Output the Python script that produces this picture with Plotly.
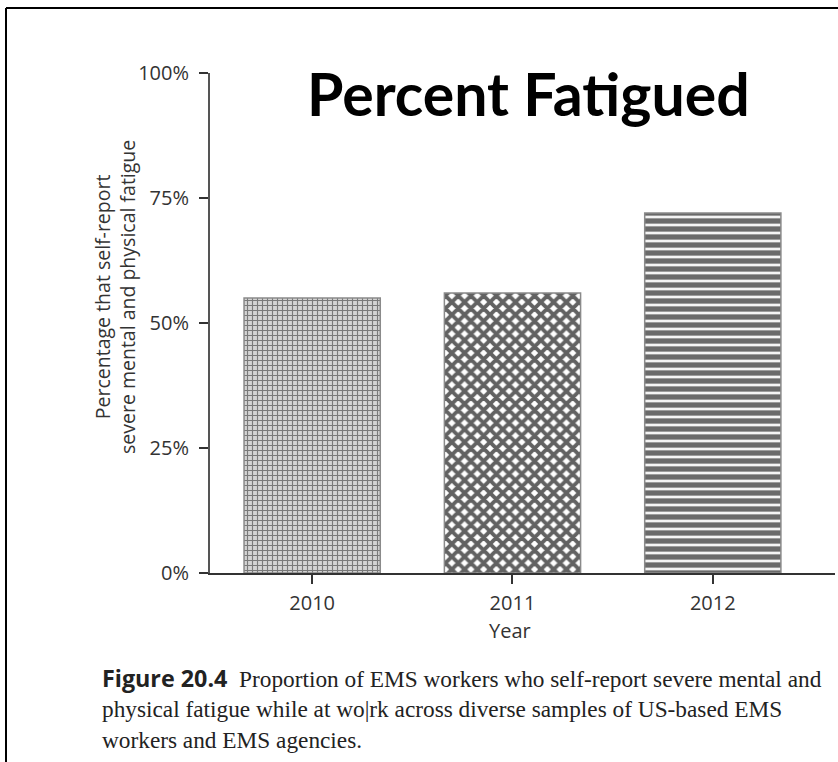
import plotly.graph_objects as go

# Survey years and share of EMS workers reporting severe fatigue
years = ["2010", "2011", "2012"]
pct_fatigued = [55, 56, 72]

y_ticks = [0, 25, 50, 75, 100]
y_tick_text = ["0%", "25%", "50%", "75%", "100%"]

caption_lines = [
    "<span style=\"font-family:'Open Sans';font-weight:bold\">Figure 20.4</span>"
    "  Proportion of EMS workers who self-report severe mental and",
    "physical fatigue while at wo|rk across diverse samples of US-based EMS",
    "workers and EMS agencies.",
]

W, H = 838, 762
L, R, T, B = 210, 3, 73, 189
pw, ph = W - L - R, H - T - B


def px(x):
    return (x - L) / pw


def py(y):
    return (H - B - y) / ph


fig = go.Figure()
fig.add_trace(go.Bar(
    x=[0, 1, 2],
    y=pct_fatigued,
    width=0.68,
    marker=dict(
        color="white",
        line=dict(color="#8a8a8a", width=1.5),
        pattern=dict(
            shape=["+", "x", "-"],
            fgcolor=["#7a7a7a", "#626262", "#6a6a6a"],
            bgcolor=["#d4d4d4", "#ffffff", "#f4f4f4"],
            size=[5, 9, 8],
            solidity=[0.4, 0.68, 0.66],
            fillmode="replace",
        ),
    ),
    hoverinfo="skip",
))

fig.update_xaxes(
    range=[-0.51, 2.61],
    tickvals=[0, 1, 2],
    ticktext=years,
    showline=True, linecolor="#333333", linewidth=2,
    ticks="outside", ticklen=9, tickwidth=2, tickcolor="#333333",
    tickfont=dict(family="Open Sans", size=20, color="#333333"),
    ticklabelstandoff=2,
    showgrid=False, zeroline=False, fixedrange=True,
)
fig.update_yaxes(
    range=[0, 100],
    tickvals=y_ticks,
    ticktext=y_tick_text,
    showline=True, linecolor="#555555", linewidth=2,
    ticks="outside", ticklen=9, tickwidth=2, tickcolor="#333333",
    tickfont=dict(family="Open Sans", size=20, color="#333333"),
    ticklabelstandoff=6,
    showgrid=False, zeroline=False, fixedrange=True,
)

annotations = [
    dict(text="<b>Percent Fatigued</b>", x=px(528), y=py(93),
         font=dict(family="Lato", size=59, color="black")),
    dict(text="Percentage that self-report<br>severe mental and physical fatigue",
         x=px(115), y=py(297), textangle=-90,
         font=dict(family="Open Sans", size=19.5, color="#333333")),
    dict(text="Year", x=px(510), y=py(630),
         font=dict(family="Open Sans", size=20, color="#333333")),
]
for i, line in enumerate(caption_lines):
    annotations.append(dict(
        text=line, x=px(100), y=py(678 + 31 * i), xanchor="left",
        font=dict(family="Liberation Serif", size=23.3, color="#222222"),
    ))
for a in annotations:
    a.update(xref="paper", yref="paper", showarrow=False)
    a.setdefault("xanchor", "center")
    a.setdefault("yanchor", "middle")

# page frame: top and left border lines
shapes = [
    dict(type="line", xref="paper", yref="paper",
         x0=px(6), x1=px(W + 5), y0=py(8), y1=py(8),
         line=dict(color="black", width=2)),
    dict(type="line", xref="paper", yref="paper",
         x0=px(6), x1=px(6), y0=py(8), y1=py(H + 5),
         line=dict(color="black", width=2)),
]

fig.update_layout(
    width=W, height=H,
    margin=dict(l=L, r=R, t=T, b=B),
    paper_bgcolor="white", plot_bgcolor="white",
    showlegend=False, bargap=0.32,
    annotations=annotations, shapes=shapes,
)

fig.write_html("out.html")
